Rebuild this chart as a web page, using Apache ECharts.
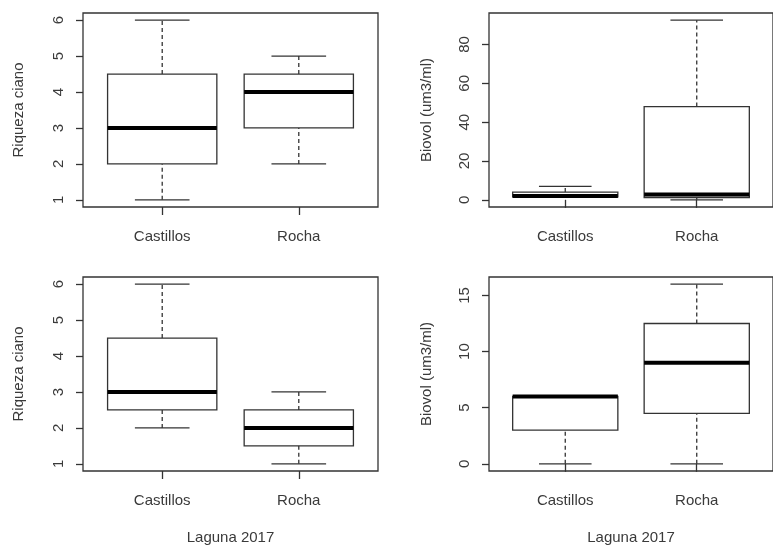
<!DOCTYPE html>
<html>
<head>
<meta charset="utf-8">
<script src="https://cdn.jsdelivr.net/npm/echarts@6/dist/echarts.min.js"></script>
<style>html,body{margin:0;padding:0;background:#fff}#c{width:773px;height:547px}</style>
</head>
<body>
<div id="c"></div>
<script>
// ---- data (min, Q1, median, Q3, max) ----
const categories = ['Castillos', 'Rocha'];
const riqueza2016 = [[1, 2, 3, 4.5, 6], [2, 3, 4, 4.5, 5]];
const biovol2016 = [[1.5, 1.5, 2, 4, 6.9], [0, 1.2, 2.7, 48, 92.5]];
const riqueza2017 = [[2, 2.5, 3, 4.5, 6], [1, 1.5, 2, 2.5, 3]];
const biovol2017 = [[0, 3, 6, 6, 6], [0, 4.5, 9, 12.5, 16]];
// ---- tick labels ----
const ticksRiqueza = [1, 2, 3, 4, 5, 6];
const ticksBiovolTop = [0, 20, 40, 60, 80];
const ticksBiovolBottom = [0, 5, 10, 15];
const xTicks = [1, 2];
const yNameRiqueza = 'Riqueza ciano';
const yNameBiovol = 'Biovol (um3/ml)';
const xName = 'Laguna 2017';

const FONT = 'Liberation Sans, Arial, sans-serif';
const TXT = '#3a3a3a';
const LINE = '#333';

function ext(d) {
  let lo = Infinity, hi = -Infinity;
  d.forEach(r => r.forEach(v => { lo = Math.min(lo, v); hi = Math.max(hi, v); }));
  const p = (hi - lo) * 0.04;
  return [lo - p, hi + p];
}

const panels = [
  { data: riqueza2016, ticks: ticksRiqueza, yName: yNameRiqueza, left: 83, top: 13, nameGap: 57, xName: '' },
  { data: biovol2016, ticks: ticksBiovolTop, yName: yNameBiovol, left: 489, top: 13, nameGap: 55, xName: '' },
  { data: riqueza2017, ticks: ticksRiqueza, yName: yNameRiqueza, left: 83, top: 277, nameGap: 57, xName: xName },
  { data: biovol2017, ticks: ticksBiovolBottom, yName: yNameBiovol, left: 489, top: 277, nameGap: 55, xName: xName }
];

const grid = [], xAxis = [], yAxis = [], series = [];
panels.forEach((p, i) => {
  grid.push({ left: p.left, top: p.top, width: 295, height: 194, show: true,
    borderColor: LINE, borderWidth: 1.3, backgroundColor: 'transparent' });
  xAxis.push({
    type: 'value', gridIndex: i, min: 0.42, max: 2.58,
    name: p.xName, nameLocation: 'middle', nameGap: 59,
    nameTextStyle: { fontFamily: FONT, fontSize: 15, color: TXT },
    axisLine: { show: false }, splitLine: { show: false },
    axisTick: { show: true, length: 8, customValues: xTicks, lineStyle: { color: LINE, width: 1.3 } },
    axisLabel: { show: true, customValues: xTicks, margin: 22, fontFamily: FONT, fontSize: 15, color: TXT,
      formatter: v => categories[Math.round(v) - 1] || '' }
  });
  const [lo, hi] = ext(p.data);
  yAxis.push({
    type: 'value', gridIndex: i, min: lo, max: hi,
    name: p.yName, nameLocation: 'middle', nameRotate: 90, nameGap: p.nameGap,
    nameTextStyle: { fontFamily: FONT, fontSize: 15, color: TXT },
    axisLine: { show: false }, splitLine: { show: false },
    axisTick: { show: true, length: 7, customValues: p.ticks, lineStyle: { color: LINE, width: 1.3 } },
    axisLabel: { show: true, customValues: p.ticks, rotate: 90, margin: 17, fontFamily: FONT, fontSize: 15, color: TXT,
      formatter: v => String(v) }
  });
  series.push({
    type: 'custom', xAxisIndex: i, yAxisIndex: i, clip: false,
    data: p.data.map((r, k) => [k + 1].concat(r)),
    encode: { x: 0, y: [1, 2, 3, 4, 5] },
    renderItem: function (params, api) {
      const x = api.value(0);
      const mn = api.value(1), q1 = api.value(2), md = api.value(3), q3 = api.value(4), mx = api.value(5);
      const c = (a, b) => api.coord([a, b]);
      const ls = { stroke: LINE, lineWidth: 1.3, fill: null };
      const dash = { stroke: LINE, lineWidth: 1.3, lineDash: [4, 3], fill: null };
      const seg = (a, b, style) => ({ type: 'line', shape: { x1: a[0], y1: a[1], x2: b[0], y2: b[1] }, style });
      const bl = c(x - 0.4, q1), tr = c(x + 0.4, q3);
      const children = [
        seg(c(x, q3), c(x, mx), dash),
        seg(c(x, mn), c(x, q1), dash),
        seg(c(x - 0.2, mx), c(x + 0.2, mx), ls),
        seg(c(x - 0.2, mn), c(x + 0.2, mn), ls),
        { type: 'rect', shape: { x: bl[0], y: tr[1], width: tr[0] - bl[0], height: bl[1] - tr[1] },
          style: { stroke: LINE, lineWidth: 1.3, fill: '#fff' } },
        seg(c(x - 0.4, md), c(x + 0.4, md), { stroke: '#000', lineWidth: 4 })
      ];
      return { type: 'group', children };
    }
  });
});

const chart = echarts.init(document.getElementById('c'), null, { renderer: 'canvas' });
chart.setOption({
  animation: false,
  backgroundColor: '#fff',
  grid, xAxis, yAxis, series,
  graphic: [{ type: 'rect', z: 100, shape: { x: 0, y: 243, width: 773, height: 8 }, style: { fill: '#fff' } }]
});
</script>
</body>
</html>
